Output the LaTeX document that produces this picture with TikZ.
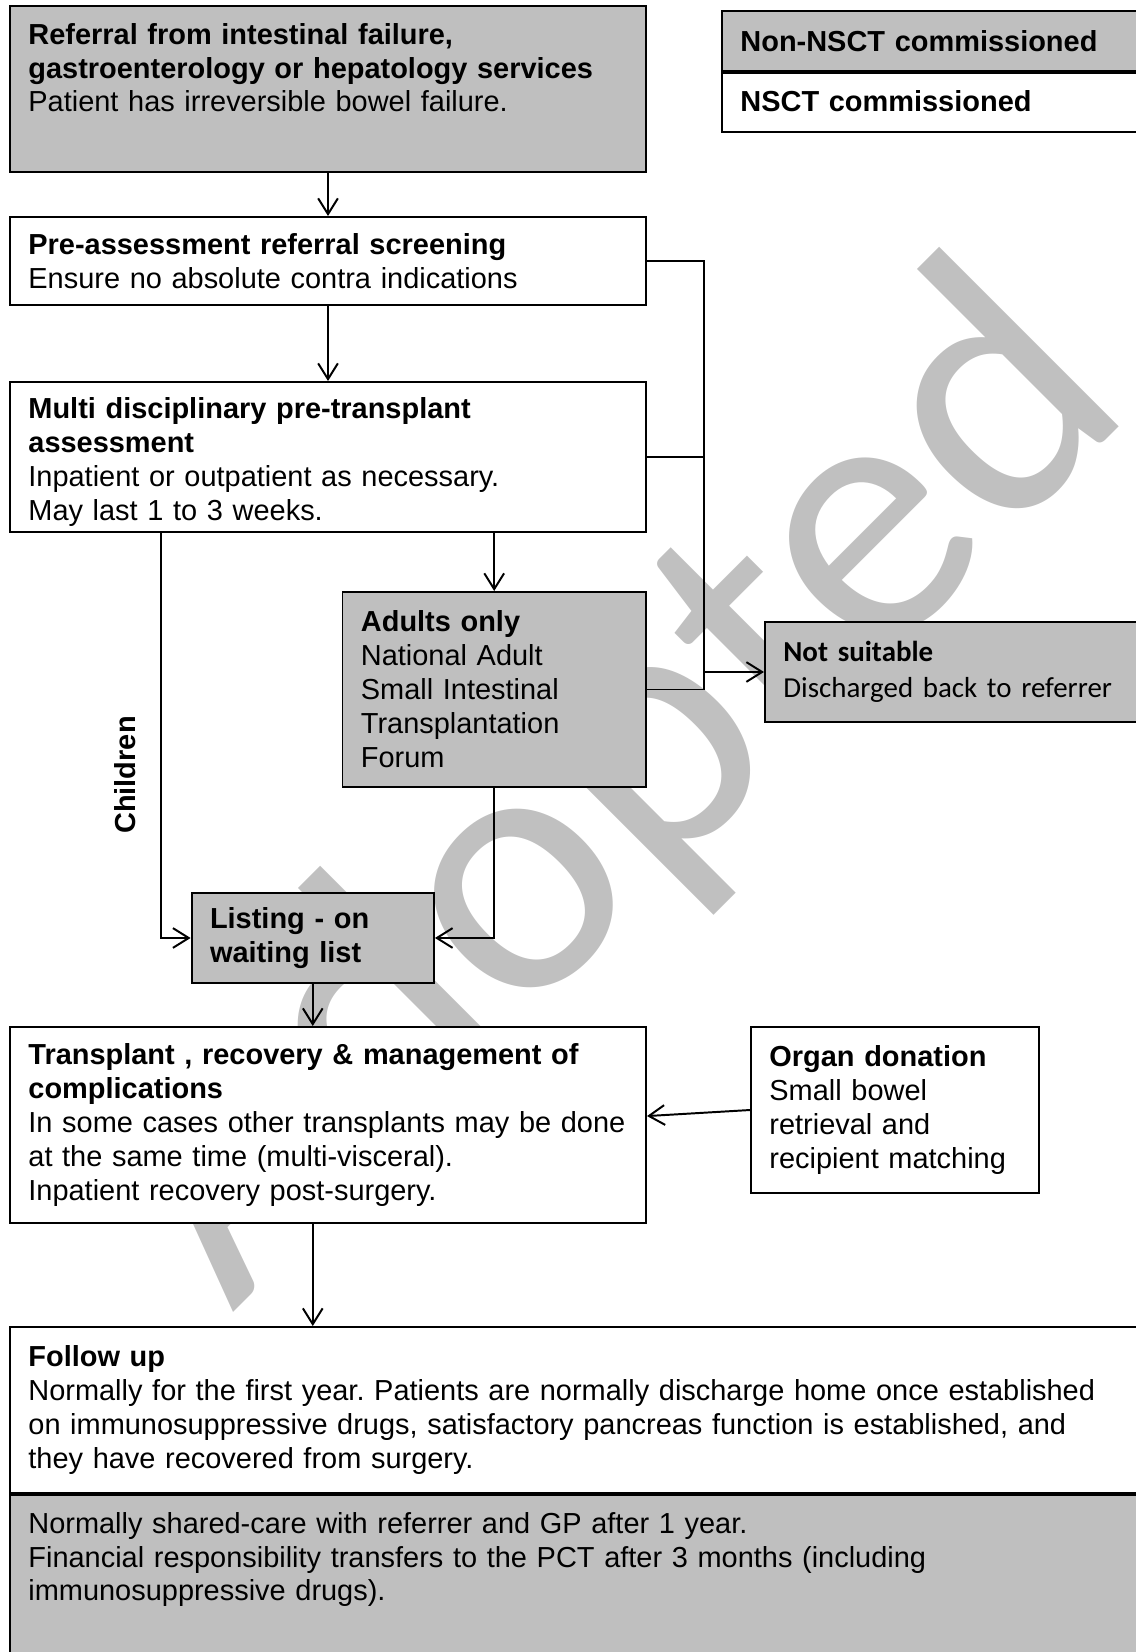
\documentclass[tikz,border=0pt]{standalone}
\usepackage{fontspec}
\setmainfont{Liberation Sans}
\newfontfamily\calibri{Carlito}
\usetikzlibrary{arrows.meta,positioning,calc}
\definecolor{boxgray}{RGB}{191,191,191}
\definecolor{stampgray}{RGB}{192,192,192}

\begin{document}
\begin{tikzpicture}[x=0.38pt,y=-0.38pt,
box/.style={draw,line width=0.75pt,anchor=north west,inner xsep=7pt,inner ysep=0pt,align=left,font=\frenchspacing\fontsize{11}{12.9}\selectfont},
greybox/.style={box,fill=boxgray},
whitebox/.style={box,fill=white},
arr/.style={-{Straight Barb[length=6pt,width=7.5pt]},line width=0.75pt},
link/.style={line width=0.75pt},
stamp/.style={font=\calibri\fontsize{139}{139}\selectfont,text=stampgray,rotate=45,anchor=base,inner sep=0pt}]
\useasboundingbox (0,0) rectangle (1136,1652);
% watermark, behind the boxes
\node[stamp] (stamp) at (685,861) {Adopted};
% key
\node[greybox,text width=152.8pt,minimum height=22.8pt] (keynon) at (721,10) {\textbf{Non-NSCT commissioned}};
\node[whitebox,text width=152.8pt,minimum height=23.2pt] (keynsct) at (721,70) {\textbf{NSCT commissioned}};
\draw[line width=1.2pt] (keynon.south west) -- (keynon.south east);
% pathway
\node[greybox,text width=227.7pt,minimum height=63.1pt] (referral) at (9,5) {\textbf{Referral from intestinal failure,}\\\textbf{gastroenterology or hepatology services}\\Patient has irreversible bowel failure.\\[3.4pt]~};
\node[whitebox,text width=227.7pt,minimum height=33.4pt] (screen) at (9,216) {\textbf{Pre-assessment referral screening}\\Ensure no absolute contra indications};
\node[whitebox,text width=227.7pt,minimum height=57pt] (mdt) at (9,381) {\rule{0pt}{12pt}\textbf{Multi disciplinary pre-transplant}\\\textbf{assessment}\\Inpatient or outpatient as necessary.\\May last 1 to 3 weeks.};
\node[greybox,text width=101.3pt,minimum height=74.1pt] (adults) at (341.5,591) {\textbf{Adults only}\\National Adult\\Small Intestinal\\Transplantation\\Forum};
\node[greybox,font=\calibri\fontsize{11}{13.6}\selectfont,text width=136.5pt,minimum height=38pt] (unfit) at (764,621) {\textbf{Not suitable}\\Discharged back to referrer};
\node[greybox,text width=78.1pt,minimum height=34.2pt] (listing) at (190.6,892) {\textbf{Listing - on}\\\textbf{waiting list}};
\node[whitebox,text width=227.7pt,minimum height=74.5pt] (transplant) at (9,1026) {\textbf{Transplant , recovery \& management of}\\\textbf{complications}\\In some cases other transplants may be done\\at the same time (multi-visceral).\\Inpatient recovery post-surgery.};
\node[whitebox,text width=95.4pt,minimum height=63.1pt] (donor) at (750,1026) {\textbf{Organ donation}\\Small bowel\\retrieval and\\recipient matching};
\node[whitebox,text width=423.4pt,minimum height=63.1pt] (followup) at (9,1326) {\textbf{Follow up}\\Normally for the first year. Patients are normally discharge home once established\\on immunosuppressive drugs, satisfactory pancreas function is established, and\\they have recovered from surgery.};
\node[greybox,text width=423.4pt,minimum height=74.1pt] (shared) at (9,1492) {Normally shared-care with referrer and GP after 1 year.\\Financial responsibility transfers to the PCT after 3 months (including\\immunosuppressive drugs).\\~\\~};
\draw[line width=1.2pt] (followup.south west) -- (followup.south east);
\node[font=\bfseries\fontsize{11}{12.9}\selectfont,rotate=90] (kids) at (125,775) {Children};
% connectors
\coordinate (bus) at (704,0);
\draw[arr] (referral.south) -- (screen.north);
\draw[arr] (screen.south) -- (mdt.north);
\draw[arr] (mdt.south -| adults.north) -- (adults.north);
\draw[arr] ($(mdt.south west)+(152,0)$) |- (listing.west);
\draw[arr] (adults.south) |- (listing.east);
\draw[arr] (listing.south) -- (listing.south |- transplant.north);
\draw[arr] (donor.west) -- ([yshift=3.4pt]transplant.east);
\draw[arr] (listing.south |- transplant.south) -- (listing.south |- followup.north);
\draw[link] (screen.east) -| (bus |- adults.east) -- (adults.east);
\draw[link] (mdt.east) -- (mdt.east -| bus);
\draw[arr] (bus |- unfit.west) -- (unfit.west);
\end{tikzpicture}
\end{document}
